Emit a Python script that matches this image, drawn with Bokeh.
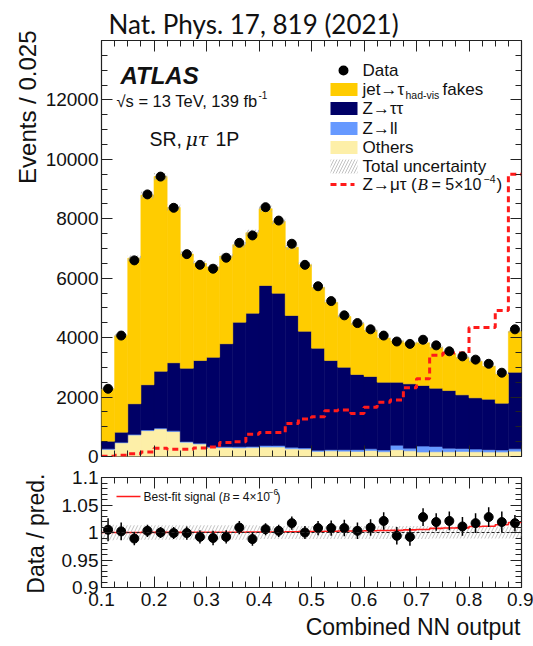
import numpy as np
from bokeh.plotting import figure
from bokeh.layouts import column
from bokeh.models import (Range1d, LinearAxis, FixedTicker, Label, BoxAnnotation,
                          Arrow, Span, Title)
from bokeh.embed import file_html
from bokeh.resources import INLINE

# ---------------- binning ----------------
x_lo, x_hi, bin_w = 0.1, 0.9, 0.025
n_bins = 32
edges = x_lo + bin_w * np.arange(n_bins + 1)
centers = edges[:-1] + bin_w / 2

# ---------------- event yields per bin ----------------
data = [2280, 4070, 6600, 8820, 9420, 8370, 6810, 6450, 6320, 6690, 7190, 7440,
        8390, 7940, 7160, 6450, 5730, 5230, 4750, 4490, 4280, 4070, 3870, 3790,
        3930, 3740, 3540, 3370, 3260, 3120, 2820, 4280]
others = [240, 460, 720, 870, 930, 840, 480, 420, 300, 300, 290, 300, 320, 320,
          260, 250, 170, 190, 180, 170, 200, 160, 230, 190, 150, 160, 160, 170,
          160, 150, 150, 180]
z_ll = [20, 20, 25, 25, 25, 25, 25, 30, 30, 30, 40, 40, 50, 50, 50, 40, 40, 40,
        50, 60, 60, 60, 150, 90, 200, 180, 120, 100, 90, 80, 70, 80]
z_tautau = [255, 340, 1030, 1520, 1915, 2290, 2465, 2780, 3010, 3465, 4190, 4485,
            5385, 5125, 4435, 3925, 3435, 3000, 2775, 2530, 2435, 2280, 2120, 2165,
            2040, 1960, 1940, 1805, 1725, 1700, 1575, 2575]
fakes = [1755, 3245, 4900, 6380, 6550, 5225, 3845, 3270, 3040, 2950, 2605, 2705,
         2585, 2420, 2295, 2235, 2040, 1955, 1705, 1715, 1550, 1485, 1390, 1375,
         1435, 1370, 1245, 1255, 1230, 1105, 975, 1370]
# Z -> mu tau signal for B = 5e-4
signal = [10, 40, 90, 150, 280, 240, 240, 290, 320, 470, 500, 750, 810, 810, 1110,
          1260, 1340, 1540, 1565, 1450, 1655, 1825, 1905, 2310, 2615, 3405, 3485,
          3485, 4345, 4345, 4910, 9500]
b_shown, b_fit = 5e-4, 4e-6

# ---------------- ratio panel ----------------
ratio = [1.005, 1.002, 0.989, 1.003, 1.000, 0.999, 0.999, 0.992, 0.990, 0.992,
         1.009, 0.988, 1.006, 1.003, 1.017, 1.000, 1.008, 1.008, 1.008, 1.003,
         1.009, 1.021, 0.994, 0.992, 1.028, 1.019, 1.021, 1.011, 1.017, 1.028,
         1.019, 1.017]
ratio_err = [0.021, 0.016, 0.012, 0.011, 0.010, 0.011, 0.012, 0.012, 0.013, 0.012,
             0.012, 0.012, 0.011, 0.011, 0.012, 0.012, 0.013, 0.014, 0.015, 0.015,
             0.015, 0.016, 0.016, 0.016, 0.016, 0.016, 0.017, 0.017, 0.018, 0.018,
             0.019, 0.015]
unc_rel = [0.014, 0.013, 0.013, 0.013, 0.013, 0.013, 0.013, 0.013, 0.013, 0.013,
           0.013, 0.013, 0.012, 0.012, 0.012, 0.012, 0.012, 0.012, 0.012, 0.012,
           0.012, 0.012, 0.012, 0.012, 0.012, 0.011, 0.011, 0.011, 0.011, 0.011,
           0.011, 0.011]

C_FAKE, C_ZTT, C_ZLL, C_OTH = "#ffcc00", "#000066", "#6699ff", "#fdefa8"
RED = "#ff1a1a"
HATCH = "#c2c2c2"
FONT = "Liberation Sans"
SERIF = "Liberation Serif"

W, H1, H2 = 533, 466, 180
FL = 101          # frame left (px)
FB1 = 456         # main frame bottom (page px)
FB2 = 587         # ratio frame bottom (page px)


def style_axis(ax, ticks, minor, labels=False, overrides=None, standoff=3):
    ax.ticker = FixedTicker(ticks=ticks, minor_ticks=minor)
    ax.axis_line_color = None
    ax.major_tick_in, ax.major_tick_out = 11, 0
    ax.minor_tick_in, ax.minor_tick_out = 6, 0
    ax.major_tick_line_color = "#222222"
    ax.minor_tick_line_color = "#222222"
    ax.major_label_text_font = FONT
    ax.major_label_text_color = "#111111"
    if labels:
        ax.major_label_text_font_size = "19px"
        ax.major_label_standoff = standoff
        if overrides:
            ax.major_label_overrides = overrides
    else:
        ax.major_label_text_font_size = "1px"
        ax.major_label_standoff = 0
        ax.major_label_overrides = {t: "" for t in ticks}


def side_title(fig, s, side, align, offset, standoff, font=FONT, size=23):
    fig.add_layout(Title(text=s, align=align, offset=offset, standoff=standoff,
                         text_font=font, text_font_size=f"{size}px",
                         text_font_style="normal", text_color="#111111"), side)


def text(fig, fb, px, py, s, size, font=FONT, style="normal", align="left",
         baseline="middle", color="#111111"):
    fig.add_layout(Label(x=px - FL, y=fb - py, x_units="screen", y_units="screen",
                         text=s, text_font=font, text_font_size=f"{size}px",
                         text_font_style=style, text_align=align,
                         text_baseline=baseline, text_color=color))


def box(fig, fb, l, r, t, b, **kw):
    fig.add_layout(BoxAnnotation(left=l - FL, right=r - FL, top=fb - t, bottom=fb - b,
                                 left_units="screen", right_units="screen",
                                 top_units="screen", bottom_units="screen", **kw))


def seg(fig, fb, x0, x1, y, **kw):
    fig.add_layout(Arrow(end=None, x_start=x0 - FL, x_end=x1 - FL, y_start=fb - y,
                         y_end=fb - y, start_units="screen", end_units="screen", **kw))


x_ticks = [round(v, 2) for v in np.arange(0.1, 0.91, 0.1)]
x_minor = list(edges)

# ================= main panel =================
p = figure(width=W, height=H1, x_range=Range1d(x_lo, x_hi), y_range=Range1d(0, 14000),
           output_backend="svg", toolbar_location=None,
           min_border_left=FL, min_border_right=W - 521, min_border_top=40,
           min_border_bottom=H1 - FB1)
p.grid.visible = False
p.outline_line_color = "#222222"
p.outline_line_width = 1.2
p.add_layout(LinearAxis(), "above")
p.add_layout(LinearAxis(), "right")
y_ticks = list(range(0, 12001, 2000))
y_minor = list(range(0, 14001, 500))
style_axis(p.below[0], x_ticks, x_minor)
style_axis(p.above[0], x_ticks, x_minor)
style_axis(p.left[0], y_ticks, y_minor, labels=True)
style_axis(p.right[0], y_ticks, y_minor)
side_title(p, "Nat. Phys. 17, 819 (2021)", "above", "left", 7, 2, font="Lato", size=26)
side_title(p, "Events / 0.025", "left", "right", -10, 4, size=24)

lows = np.zeros(n_bins)
for vals, col in [(others, C_OTH), (z_ll, C_ZLL), (z_tautau, C_ZTT), (fakes, C_FAKE)]:
    top = lows + np.array(vals)
    p.quad(left=edges[:-1], right=edges[1:], bottom=lows, top=top,
           fill_color=col, line_color=col, line_width=0.6)
    lows = top
pred = lows

# total uncertainty band on top of the stack
p.quad(left=edges[:-1], right=edges[1:], bottom=pred * (1 - np.array(unc_rel)),
       top=pred * (1 + np.array(unc_rel)), fill_alpha=0, line_alpha=0,
       hatch_pattern="/", hatch_color="#a8a8a8", hatch_scale=7, hatch_weight=1)

# signal at B = 5e-4 (dashed step)
p.step(x=edges, y=np.append(signal, signal[-1]), mode="after", line_color=RED,
       line_width=3, line_dash="6 4")

p.scatter(centers, data, size=9, color="black")

# texts inside the main frame
text(p, FB1, 120, 75, "ATLAS", 24, style="bold italic", baseline="alphabetic")
text(p, FB1, 116, 100, "\u221as = 13 TeV, 139 fb", 16.5)
text(p, FB1, 258, 94, "-1", 10)
text(p, FB1, 149, 138, "SR,", 19.5)
text(p, FB1, 185, 138, "\u03bc\u03c4", 19, font="DejaVu Serif", style="italic")
text(p, FB1, 215, 138, "1P", 19.5)

# legend
rows = [70, 89, 108, 128, 147, 166, 184]
box(p, FB1, 338, 348, rows[0] - 5, rows[0] + 5, fill_color="black", fill_alpha=1,
    line_color=None, border_radius=5)
for rw, col in zip(rows[1:5], [C_FAKE, C_ZTT, C_ZLL, C_OTH]):
    box(p, FB1, 330, 357, rw - 6.5, rw + 6.5, fill_color=col, fill_alpha=1,
        line_color=None)
box(p, FB1, 330, 357, rows[5] - 7, rows[5] + 7, fill_alpha=0, line_color=None,
    hatch_pattern="/", hatch_color=HATCH, hatch_scale=6, hatch_weight=1)
seg(p, FB1, 330, 354, rows[6], line_color=RED, line_width=3, line_dash="6 4")

LX = 362
text(p, FB1, LX, rows[0], "Data", 17)
text(p, FB1, LX, rows[1], "jet\u2192\u03c4", 17)
text(p, FB1, 405, rows[1] + 5, "had-vis", 10.5)
text(p, FB1, 442, rows[1], "fakes", 17)
text(p, FB1, LX, rows[2], "Z\u2192\u03c4\u03c4", 17)
text(p, FB1, LX, rows[3], "Z\u2192ll", 17)
text(p, FB1, LX, rows[4], "Others", 17)
text(p, FB1, LX, rows[5], "Total uncertainty", 17)
text(p, FB1, LX, rows[6], "Z\u2192\u03bc\u03c4 (", 17)
text(p, FB1, 417, rows[6], "B", 17, font=SERIF, style="italic")
text(p, FB1, 431, rows[6], "= 5\u00d710", 16)
text(p, FB1, 483, rows[6] - 6, "\u22124", 10.5)
text(p, FB1, 496, rows[6], ")", 17)

# ================= ratio panel =================
r = figure(width=W, height=H2, x_range=p.x_range, y_range=Range1d(0.9, 1.1),
           output_backend="svg", toolbar_location=None,
           min_border_left=FL, min_border_right=W - 521, min_border_top=477 - H1,
           min_border_bottom=H1 + H2 - FB2)
r.grid.visible = False
r.outline_line_color = "#222222"
r.outline_line_width = 1.2
r.add_layout(LinearAxis(), "above")
r.add_layout(LinearAxis(), "right")
ry_ticks = [0.9, 0.95, 1.0, 1.05, 1.1]
ry_minor = [round(v, 2) for v in np.arange(0.9, 1.1001, 0.01)]
ry_over = {0.9: "0.9", 0.95: "0.95", 1.0: "1", 1.05: "1.05", 1.1: "1.1"}
x_over = {v: f"{v:.1f}" for v in x_ticks}
style_axis(r.below[0], x_ticks, x_minor, labels=True, overrides=x_over, standoff=5)
style_axis(r.above[0], x_ticks, x_minor)
style_axis(r.left[0], ry_ticks, ry_minor, labels=True, overrides=ry_over)
style_axis(r.right[0], ry_ticks, ry_minor)
side_title(r, "Data / pred.", "left", "right", -4, 20)
side_title(r, "Combined NN output", "below", "right", 1, 6)

r.quad(left=edges[:-1], right=edges[1:], bottom=1 - np.array(unc_rel),
       top=1 + np.array(unc_rel), fill_alpha=0, line_alpha=0,
       hatch_pattern="/", hatch_color=HATCH, hatch_scale=7, hatch_weight=1)
r.add_layout(Span(location=1.0, dimension="width", line_color="#222222",
                  line_width=1, line_dash="3 2"))

fit = 1 + (b_fit / b_shown) * np.array(signal) / pred
r.step(x=edges, y=np.append(fit, fit[-1]), mode="after", line_color=RED, line_width=1.6)

ratio_a = np.array(ratio)
err_a = np.array(ratio_err)
r.segment(x0=centers, y0=ratio_a - err_a, x1=centers, y1=ratio_a + err_a,
          line_color="black", line_width=1.5)
r.scatter(centers, ratio, size=9, color="black")

seg(r, FB2, 116, 140, 496, line_color=RED, line_width=1.6)
text(r, FB2, 143, 496, "Best-fit signal (", 12)
text(r, FB2, 222, 496, "B", 12, font=SERIF, style="italic")
text(r, FB2, 232, 496, "= 4\u00d710", 12)
text(r, FB2, 268, 491, "\u22126", 8.5)
text(r, FB2, 276, 496, ")", 12)

layout = column(p, r, spacing=0)
open("out.html", "w").write(file_html(layout, INLINE))
